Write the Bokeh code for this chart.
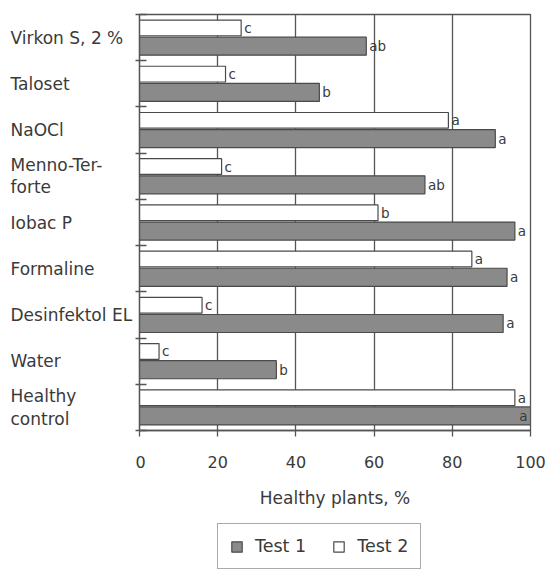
from bokeh.plotting import figure
from bokeh.layouts import row, column
from bokeh.models import (Range1d, FixedTicker, ColumnDataSource, Legend, LegendItem)
from bokeh.core.properties import value
from bokeh.embed import file_html
from bokeh.resources import INLINE

# ---------------- data ----------------
treatments = ["Virkon S, 2 %", "Taloset", "NaOCl", "Menno-Ter-\nforte", "Iobac P",
              "Formaline", "Desinfektol EL", "Water", "Healthy\ncontrol"]
test1 = [58, 46, 91, 73, 96, 94, 93, 35, 100]
test2 = [26, 22, 79, 21, 61, 85, 16, 5, 96]
letters1 = ["ab", "b", "a", "ab", "a", "a", "a", "b", "a"]
letters2 = ["c", "c", "a", "c", "b", "a", "c", "c", "a"]
x_ticks = [0, 20, 40, 60, 80, 100]
x_title = "Healthy plants, %"
series_names = ["Test 1", "Test 2"]

# ---------------- style ----------------
FONT = "DejaVu Sans"
TEXT = "#3a3a3a"
LINE = "#555555"
GREY = "#8a8a8a"
BAR_EDGE = "#4a4a4a"

n = len(treatments)
centers = [i + 0.5 for i in range(n)]
XMAX = x_ticks[-1]

LABEL_W = 135      # width of the category-label column
MAIN_W = 414
MAIN_H = 515
TOP = 14
BOTTOM = 85
LEG_H = 58

y_range = Range1d(n, 0)

# ---------------- main chart ----------------
p = figure(width=MAIN_W, height=MAIN_H, output_backend="svg", toolbar_location=None,
           x_range=Range1d(0, XMAX), y_range=y_range,
           min_border_left=4, min_border_right=19, min_border_top=TOP,
           min_border_bottom=BOTTOM)
p.background_fill_color = "white"
p.border_fill_color = "white"
p.outline_line_color = LINE
p.outline_line_width = 1.3


def letter_cols(vals):
    xo = [3 if v < XMAX else -3 for v in vals]
    al = ["left" if v < XMAX else "right" for v in vals]
    return xo, al


xo1, al1 = letter_cols(test1)
xo2, al2 = letter_cols(test2)

src1 = ColumnDataSource(dict(y=[c + 0.185 for c in centers], v=test1, lab=letters1,
                             xo=xo1, al=al1))
src2 = ColumnDataSource(dict(y=[c - 0.21 for c in centers], v=test2, lab=letters2,
                             xo=xo2, al=al2))

p.xgrid.ticker = FixedTicker(ticks=x_ticks)
p.xgrid.grid_line_color = LINE
p.xgrid.grid_line_width = 1.3
p.ygrid.visible = False

bar1 = dict(fill_color=GREY, line_color=BAR_EDGE, line_width=1.2)
bar2 = dict(fill_color="white", line_color=BAR_EDGE, line_width=1.2)

p.hbar(y="y", right="v", left=0, height=0.39, source=src1, **bar1)
p.hbar(y="y", right="v", left=0, height=0.34, source=src2, **bar2)

for src in (src1, src2):
    p.text(x="v", y="y", text="lab", source=src, x_offset="xo", text_align="al",
           text_baseline="middle", text_font=value(FONT), text_font_size="13.5px",
           text_color=TEXT)

ya = p.yaxis[0]
ya.ticker = FixedTicker(ticks=[], minor_ticks=list(range(n + 1)))
ya.major_label_text_font_size = "0px"
ya.major_label_standoff = 0
ya.minor_tick_out = 4
ya.minor_tick_in = 7
ya.minor_tick_line_color = LINE
ya.minor_tick_line_width = 1.3
ya.axis_line_color = LINE
ya.axis_line_width = 1.3

xa = p.xaxis[0]
xa.ticker = FixedTicker(ticks=x_ticks)
xa.major_tick_out = 6
xa.major_tick_in = 0
xa.minor_tick_out = 0
xa.minor_tick_in = 0
xa.major_tick_line_color = LINE
xa.major_tick_line_width = 1.3
xa.axis_line_color = LINE
xa.axis_line_width = 1.3
xa.major_label_standoff = 19
xa.major_label_text_font = FONT
xa.major_label_text_font_size = "16px"
xa.major_label_text_color = TEXT
xa.axis_label = x_title
xa.axis_label_standoff = 17
xa.axis_label_text_font = FONT
xa.axis_label_text_font_size = "17px"
xa.axis_label_text_font_style = "normal"
xa.axis_label_text_color = TEXT

# ---------------- category label column ----------------
lab = figure(width=LABEL_W, height=MAIN_H, output_backend="svg", toolbar_location=None,
             x_range=Range1d(0, LABEL_W), y_range=y_range,
             x_axis_location=None, y_axis_location=None,
             min_border_left=0, min_border_right=0, min_border_top=TOP,
             min_border_bottom=BOTTOM)
lab.outline_line_color = None
lab.grid.visible = False
lab_src = ColumnDataSource(dict(y=centers, t=treatments))
lab.text(x=0, y="y", text="t", source=lab_src, x_offset=10,
         text_align="left", text_baseline="middle", text_font=value(FONT),
         text_font_size="17px", text_color=TEXT, text_line_height=1.12)

# ---------------- legend strip ----------------
W = LABEL_W + MAIN_W
leg = figure(width=W, height=LEG_H, output_backend="svg", toolbar_location=None,
             x_range=Range1d(0, XMAX), y_range=Range1d(0, n),
             x_axis_location=None, y_axis_location=None,
             min_border_left=0, min_border_right=0, min_border_top=0,
             min_border_bottom=0)
leg.outline_line_color = None
leg.grid.visible = False
# hidden copies of the bars: they only supply the legend glyphs
d1 = leg.hbar(y="y", right="v", left=0, height=0.39, source=src1, visible=False, **bar1)
d2 = leg.hbar(y="y", right="v", left=0, height=0.34, source=src2, visible=False, **bar2)
legend = Legend(items=[LegendItem(label=series_names[0], renderers=[d1]),
                       LegendItem(label=series_names[1], renderers=[d2])],
                orientation="horizontal", location=(217, 4),
                border_line_color=LINE, border_line_width=1.3,
                glyph_width=13, glyph_height=13, label_standoff=12, spacing=26,
                padding=12, margin=0, label_text_font=FONT,
                label_text_font_size="17.5px", label_text_color=TEXT,
                inactive_fill_alpha=0)
leg.add_layout(legend, "center")

layout = column(row(lab, p), leg)
open("out.html", "w").write(file_html(layout, INLINE))
